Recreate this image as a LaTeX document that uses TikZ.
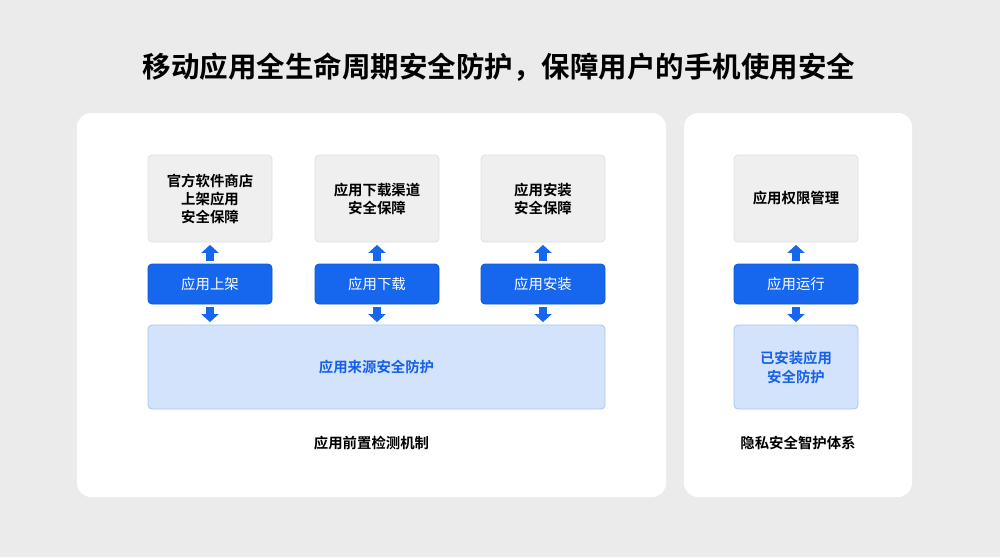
\documentclass[tikz,border=0pt]{standalone}
\usepackage{fontspec}
\newfontfamily\cjk{Noto Sans CJK SC}
\newfontfamily\cjkb{Noto Sans CJK SC Bold}
\usetikzlibrary{arrows.meta}
\definecolor{bgc}{HTML}{EBEBEB}
\definecolor{bluec}{HTML}{1666EE}
\definecolor{bluedk}{HTML}{0F55D6}
\definecolor{lightc}{HTML}{D3E3FB}
\definecolor{lightb}{HTML}{A8C5F3}
\definecolor{ltext}{HTML}{1760E8}
\definecolor{grayc}{HTML}{EFEFEF}
\definecolor{grayb}{HTML}{E0E0E0}
\tikzset{
  panel/.style={fill=white, draw=none, rounded corners=14pt},
  graybox/.style={fill=grayc, draw=grayb, line width=0.8pt, rounded corners=4pt, minimum width=124pt, minimum height=87pt, align=center, font=\cjkb\fontsize{14.4pt}{18pt}\selectfont, text=black, inner sep=0pt},
  bluebox/.style={fill=bluec, draw=bluedk, line width=0.8pt, rounded corners=4pt, minimum width=124pt, minimum height=40pt, align=center, font=\cjk\fontsize{14.4pt}{17.5pt}\selectfont, text=white, inner sep=0pt},
  lightbox/.style={fill=lightc, draw=lightb, line width=0.8pt, rounded corners=4pt, minimum height=84pt, align=center, font=\cjkb\fontsize{14.4pt}{19pt}\selectfont, text=ltext, inner sep=0pt},
  caption/.style={font=\cjkb\fontsize{14.4pt}{17.5pt}\selectfont, text=black, inner sep=0pt},
  blockarrow/.style={draw=bluec, line width=7.5pt, -{Triangle[width=17pt,length=8pt]}, shorten <=3pt, shorten >=2.5pt}
}
\begin{document}
\begin{tikzpicture}[x=1pt,y=1pt]
\fill[bgc] (0,0) rectangle (1000,-557);
\useasboundingbox (0,0) rectangle (1000,-557);
\node[font=\cjkb\fontsize{28.5pt}{32pt}\selectfont, text=black, inner sep=0pt] (title) at (499,-67) {移动应用全生命周期安全防护，保障用户的手机使用安全};
\fill[panel] (77,-113) rectangle (666,-497);
\fill[panel] (684,-113) rectangle (912,-497);
% left panel
\node[graybox] (g1) at (210,-198.5) {官方软件商店\\上架应用\\安全保障};
\node[graybox] (g2) at (377,-198.5) {应用下载渠道\\安全保障};
\node[graybox] (g3) at (543,-198.5) {应用安装\\安全保障};
\node[bluebox] (b1) at (210,-284) {应用上架};
\node[bluebox] (b2) at (377,-284) {应用下载};
\node[bluebox] (b3) at (543,-284) {应用安装};
\node[lightbox, minimum width=457pt] (l1) at (376.5,-367) {应用来源安全防护};
\node[caption] (c1) at (371.5,-443) {应用前置检测机制};
\draw[blockarrow] (b1.north) -- (g1.south);
\draw[blockarrow] (b2.north) -- (g2.south);
\draw[blockarrow] (b3.north) -- (g3.south);
\draw[blockarrow] (b1.south) -- (b1.south |- l1.north);
\draw[blockarrow] (b2.south) -- (b2.south |- l1.north);
\draw[blockarrow] (b3.south) -- (b3.south |- l1.north);
% right panel
\node[graybox] (g4) at (796,-198.5) {应用权限管理};
\node[bluebox] (b4) at (796,-284) {应用运行};
\node[lightbox, minimum width=124pt] (l2) at (796,-367) {已安装应用\\安全防护};
\node[caption] (c2) at (798,-443) {隐私安全智护体系};
\draw[blockarrow] (b4.north) -- (g4.south);
\draw[blockarrow] (b4.south) -- (l2.north);
\end{tikzpicture}
\end{document}
